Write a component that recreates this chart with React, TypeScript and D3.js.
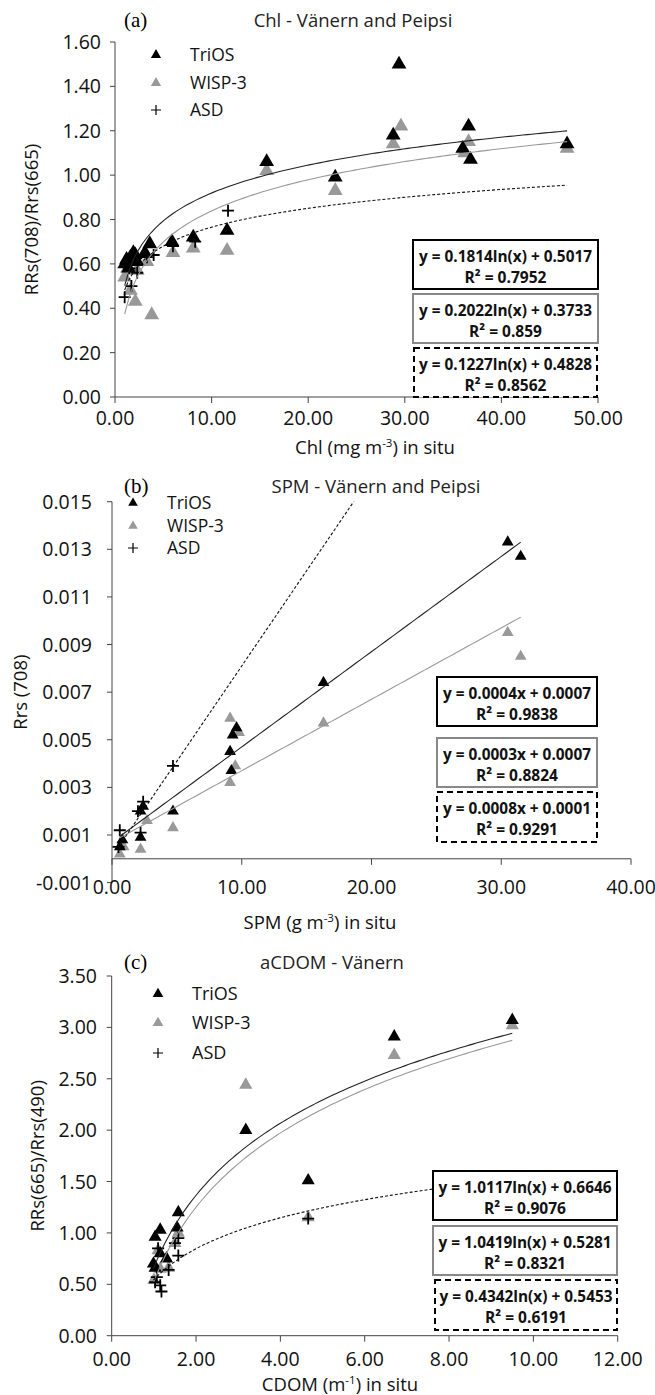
import React from 'react';
import * as d3 from 'd3';

// ---- data: [x, y] pairs ----
const chlTriOS = [
  [1.0, 0.6], [1.2, 0.62], [1.4, 0.58], [1.6, 0.63], [1.9, 0.65], [2.1, 0.64], [2.3, 0.61],
  [3.1, 0.65], [3.6, 0.69], [5.9, 0.7], [8.1, 0.72], [11.6, 0.75], [15.7, 1.06], [22.8, 0.99],
  [28.8, 1.18], [29.4, 1.5], [36.0, 1.12], [36.6, 1.22], [36.8, 1.07], [46.8, 1.14],
];
const chlWISP = [
  [1.0, 0.54], [1.3, 0.58], [1.6, 0.48], [2.1, 0.43], [2.3, 0.57], [3.3, 0.61], [3.8, 0.37],
  [6.0, 0.65], [8.1, 0.67], [11.6, 0.66], [15.7, 1.02], [22.8, 0.93], [28.8, 1.14], [29.6, 1.22],
  [36.2, 1.1], [36.6, 1.15], [46.8, 1.12],
];
const chlASD = [
  [1.0, 0.45], [1.5, 0.58], [1.7, 0.5], [2.3, 0.56], [3.3, 0.63], [4.0, 0.64], [6.0, 0.68],
  [8.3, 0.7], [11.7, 0.84],
];

const spmTriOS = [
  [0.6, 0.0005], [0.8, 0.0008], [2.2, 0.0009], [2.2, 0.002], [2.4, 0.0022], [4.7, 0.002],
  [9.1, 0.0045], [9.2, 0.0037], [9.3, 0.0052], [9.6, 0.0055], [16.3, 0.0074], [30.5, 0.0133],
  [31.5, 0.0127],
];
const spmWISP = [
  [0.6, 0.0002], [0.9, 0.0005], [2.2, 0.0004], [2.7, 0.0016], [4.7, 0.0013], [9.1, 0.0032],
  [9.1, 0.0059], [9.5, 0.0039], [9.8, 0.0053], [16.3, 0.0057], [30.5, 0.0095], [31.5, 0.0085],
];
const spmASD = [
  [0.5, 0.0005], [0.6, 0.0012], [2.0, 0.002], [2.2, 0.0011], [2.4, 0.0024], [4.7, 0.0039],
];

const cdomTriOS = [
  [0.99, 0.7], [1.03, 0.66], [1.03, 0.96], [1.15, 0.8], [1.15, 1.03], [1.3, 0.75], [1.55, 1.05],
  [1.58, 1.2], [3.18, 2.0], [4.66, 1.51], [6.7, 2.91], [9.5, 3.07],
];
const cdomWISP = [
  [1.0, 0.54], [1.1, 0.83], [1.15, 0.65], [1.35, 0.66], [1.5, 0.9], [1.58, 1.0], [3.18, 2.44],
  [4.66, 1.15], [6.7, 2.73], [9.5, 3.02],
];
const cdomASD = [
  [1.03, 0.52], [1.07, 0.57], [1.1, 0.85], [1.15, 0.49], [1.18, 0.43], [1.35, 0.64], [1.5, 0.9],
  [1.58, 0.95], [1.58, 0.78], [4.66, 1.14],
];

const legendNames = ['TriOS', 'WISP-3', 'ASD'];

// fitted coefficients [a, b] and R² from the boxes
const chlFits = [[0.1814, 0.5017, '0.7952'], [0.2022, 0.3733, '0.859'], [0.1227, 0.4828, '0.8562']];
const spmFits = [[0.0004, 0.0007, '0.9838'], [0.0003, 0.0007, '0.8824'], [0.0008, 0.0001, '0.9291']];
const cdomFits = [[1.0117, 0.6646, '0.9076'], [1.0419, 0.5281, '0.8321'], [0.4342, 0.5453, '0.6191']];

const FONT = "'Open Sans', sans-serif";
const GRAY = '#999';

function Panel({ cfg }) {
  const { left, right, top, bottom, xDomain, yDomain, xTicks, yTicks, yFmt, series, fits, kind } = cfg;
  const x = d3.scaleLinear().domain(xDomain).range([left, right]);
  const y = d3.scaleLinear().domain(yDomain).range([bottom, top]);
  const x0 = y(0);
  const clipId = 'clip-' + cfg.id;
  const fmtY = (t) => d3.format(yFmt)(t).replace('−', '-');

  const fitFn = (f) => (v) => (kind === 'log' ? f[0] * Math.log(v) + f[1] : f[0] * v + f[1]);
  const fitLine = (f, pts) => {
    const [lo, hi] = d3.extent(pts, (d) => d[0]);
    const xs = d3.range(0, 101).map((i) => lo + ((hi - lo) * i) / 100);
    return d3.line()
      .x((v) => x(v))
      .y((v) => y(fitFn(f)(v)))(xs);
  };
  const tri = (s) => d3.symbol(d3.symbolTriangle, s)();
  const plus = (r) => `M${-r},0H${r}M0,${-r}V${r}`;

  const lineStyles = [
    { stroke: '#222', dash: null },
    { stroke: GRAY, dash: null },
    { stroke: '#111', dash: '3,2' },
  ];
  const boxStyles = [
    { stroke: '#000', dash: null },
    { stroke: '#888', dash: null },
    { stroke: '#000', dash: '6,4' },
  ];

  return (
    <g fontFamily={FONT}>
      <defs>
        <clipPath id={clipId}>
          <rect x={left} y={top} width={right - left} height={bottom - top} />
        </clipPath>
      </defs>
      {/* panel letter and title */}
      <text x={cfg.letterX} y={cfg.titleY} fontFamily="'Liberation Serif', serif" fontSize={21}>
        {cfg.letter}
      </text>
      <text x={cfg.titleX} y={cfg.titleY} fontSize={18.5} textAnchor="middle" fill="#222">
        {cfg.title}
      </text>

      {/* axes */}
      <line x1={left} x2={left} y1={top} y2={bottom} stroke="#444" />
      <line x1={left} x2={right} y1={x0} y2={x0} stroke="#444" />
      {yTicks.map((t) => (
        <g key={'y' + t}>
          <line x1={left - 5} x2={left} y1={y(t)} y2={y(t)} stroke="#444" />
          <text x={cfg.yLabelX} y={y(t)} dy="0.36em" textAnchor="end" fontSize={19.5} fill="#111">
            {fmtY(t)}
          </text>
        </g>
      ))}
      {xTicks.map((t) => (
        <g key={'x' + t}>
          <line x1={x(t)} x2={x(t)} y1={x0} y2={x0 + 6} stroke="#444" />
          <text x={x(t)} y={cfg.xLabelY} dy="0.36em" textAnchor="middle" fontSize={19.5} fill="#111">
            {d3.format('.2f')(t)}
          </text>
        </g>
      ))}

      {/* axis titles */}
      <text
        transform={`translate(${cfg.yTitleX},${(top + bottom) / 2}) rotate(-90)`}
        textAnchor="middle"
        fontSize={18.5}
        fill="#111"
      >
        {cfg.yTitle}
      </text>
      <text x={cfg.xTitleX} y={cfg.xTitleY} textAnchor="middle" fontSize={18.5} fill="#111">
        {cfg.xTitle[0]}
        <tspan fontSize={11.5} dy={-7}>{cfg.xTitle[1]}</tspan>
        <tspan dy={7}>{cfg.xTitle[2]}</tspan>
      </text>

      {/* markers */}
      {series[1].map((d, i) => (
        <path key={'w' + i} d={tri(cfg.tri)} transform={`translate(${x(d[0])},${y(d[1])})`} fill={GRAY} />
      ))}
      {series[0].map((d, i) => (
        <path key={'t' + i} d={tri(cfg.tri)} transform={`translate(${x(d[0])},${y(d[1])})`} fill="#000" />
      ))}
      {series[2].map((d, i) => (
        <path
          key={'a' + i}
          d={plus(cfg.plus)}
          transform={`translate(${x(d[0])},${y(d[1])})`}
          stroke="#000"
          strokeWidth={1.8}
        />
      ))}

      {/* trend lines */}
      <g clipPath={`url(#${clipId})`}>
        {fits.map((f, i) => (
          <path
            key={'f' + i}
            d={fitLine(f, cfg.fitRange[i])}
            fill="none"
            stroke={lineStyles[i].stroke}
            strokeWidth={1.1}
            strokeDasharray={lineStyles[i].dash || undefined}
          />
        ))}
      </g>

      {/* legend */}
      {legendNames.map((n, i) => {
        const ly = cfg.legendY[i];
        return (
          <g key={n}>
            {i < 2 ? (
              <path d={tri(cfg.legendTri)} transform={`translate(${cfg.legendX},${ly})`} fill={i === 0 ? '#000' : GRAY} />
            ) : (
              <path d={plus(5)} transform={`translate(${cfg.legendX},${ly})`} stroke="#000" strokeWidth={1.2} />
            )}
            <text x={cfg.legendTextX} y={ly} dy="0.36em" fontSize={cfg.legendFont} fill="#111">
              {n}
            </text>
          </g>
        );
      })}

      {/* equation boxes */}
      {fits.map((f, i) => {
        const b = cfg.boxes[i];
        const cx = (b[0] + b[1]) / 2;
        const eq =
          kind === 'log'
            ? `y = ${f[0].toFixed(4)}ln(x) + ${f[1].toFixed(4)}`
            : `y = ${f[0].toFixed(4)}x + ${f[1].toFixed(4)}`;
        const eqW = kind === 'log' ? 173 : 148;
        const r2W = f[2].length > 5 ? 82 : 73;
        return (
          <g key={'b' + i}>
            <rect
              x={b[0]}
              y={b[2]}
              width={b[1] - b[0]}
              height={b[3] - b[2]}
              fill="#fff"
              stroke={boxStyles[i].stroke}
              strokeWidth={2}
              strokeDasharray={boxStyles[i].dash || undefined}
            />
            <text
              x={cx}
              y={b[2] + 22}
              textAnchor="middle"
              fontSize={16.5}
              fontWeight="bold"
              fill="#111"
              textLength={eqW}
              lengthAdjust="spacingAndGlyphs"
            >
              {eq}
            </text>
            <text
              x={cx}
              y={b[2] + 43}
              textAnchor="middle"
              fontSize={16.5}
              fontWeight="bold"
              fill="#111"
              textLength={r2W}
              lengthAdjust="spacingAndGlyphs"
            >
              {`R² = ${f[2]}`}
            </text>
          </g>
        );
      })}
    </g>
  );
}

const panels = [
  {
    id: 'a', letter: '(a)', letterX: 124, title: 'Chl - Vänern and Peipsi', titleX: 353, titleY: 27,
    left: 115, right: 598, top: 42, bottom: 397,
    xDomain: [0, 50], yDomain: [0, 1.6],
    xTicks: d3.range(0, 51, 10), yTicks: d3.range(0, 1.61, 0.2), yFmt: '.2f',
    yLabelX: 101, xLabelY: 418, yTitleX: 38, xTitleX: 375, xTitleY: 454,
    yTitle: 'RRs(708)/Rrs(665)', xTitle: ['Chl (mg m', '-3', ') in situ'],
    series: [chlTriOS, chlWISP, chlASD], fits: chlFits, kind: 'log',
    fitRange: [chlTriOS, chlWISP, chlASD.concat([[46.8, 0.9]])],
    tri: 95, plus: 6, legendTri: 45, legendX: 156, legendTextX: 190, legendY: [55, 83, 110], legendFont: 17.5,
    boxes: [[413, 598, 240, 289], [413, 598, 294, 343], [414, 597, 348, 397]],
  },
  {
    id: 'b', letter: '(b)', letterX: 124, title: 'SPM - Vänern and Peipsi', titleX: 376, titleY: 493,
    left: 112, right: 631, top: 501.7, bottom: 882.6,
    xDomain: [0, 40], yDomain: [-0.001, 0.015],
    xTicks: d3.range(0, 41, 10), yTicks: d3.range(-0.001, 0.0151, 0.002), yFmt: '.3f',
    yLabelX: 92, xLabelY: 887, yTitleX: 27, xTitleX: 320, xTitleY: 929,
    yTitle: 'Rrs (708)', xTitle: ['SPM (g m', '-3', ') in situ'],
    series: [spmTriOS, spmWISP, spmASD], fits: spmFits, kind: 'lin',
    fitRange: [spmTriOS, spmTriOS, spmTriOS],
    tri: 60, plus: 6, legendTri: 40, legendX: 133, legendTextX: 167, legendY: [503, 526, 548], legendFont: 17.5,
    boxes: [[437, 597, 677, 726], [437, 597, 738, 787], [437, 597, 792, 842]],
  },
  {
    id: 'c', letter: '(c)', letterX: 124, title: 'aCDOM - Vänern', titleX: 332, titleY: 969,
    left: 111.7, right: 617.7, top: 976, bottom: 1335.7,
    xDomain: [0, 12], yDomain: [0, 3.5],
    xTicks: d3.range(0, 12.1, 2), yTicks: d3.range(0, 3.51, 0.5), yFmt: '.2f',
    yLabelX: 97, xLabelY: 1359, yTitleX: 44, xTitleX: 340, xTitleY: 1391,
    yTitle: 'RRs(665)/Rrs(490)', xTitle: ['CDOM (m', '-1', ') in situ'],
    series: [cdomTriOS, cdomWISP, cdomASD], fits: cdomFits, kind: 'log',
    fitRange: [cdomTriOS, cdomWISP, cdomTriOS],
    tri: 75, plus: 6, legendTri: 50, legendX: 158, legendTextX: 192, legendY: [994, 1023, 1053], legendFont: 18,
    boxes: [[433, 617, 1171, 1220], [433, 617, 1226, 1275], [435, 617, 1280, 1330]],
  },
];

export default function App() {
  return (
    <svg
      width={655}
      height={1395}
      style={{ position: 'absolute', left: 0, top: 0, background: '#fff' }}
    >
      <rect width={655} height={1395} fill="#fff" />
      {panels.map((p) => (
        <Panel key={p.id} cfg={p} />
      ))}
    </svg>
  );
}
